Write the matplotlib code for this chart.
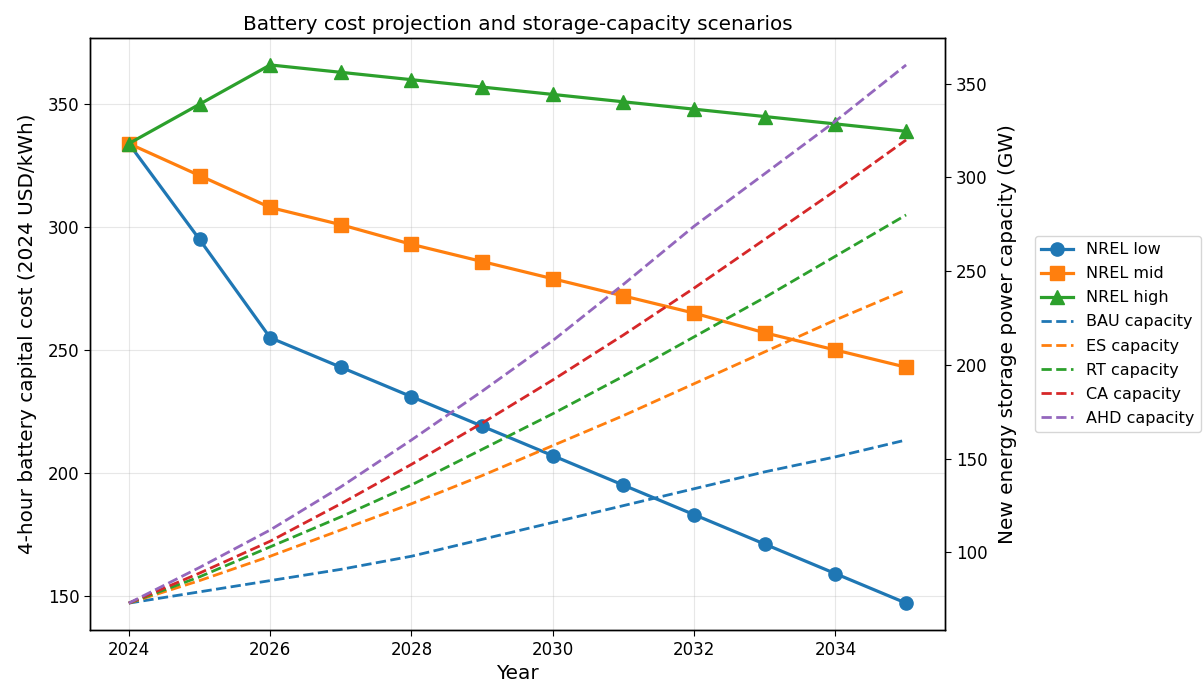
import matplotlib
matplotlib.use("Agg")
import matplotlib.pyplot as plt

years = list(range(2024, 2036))

nrel_low = [334, 295, 255, 243, 231, 219, 207, 195, 183, 171, 159, 147]
nrel_mid = [334, 321, 308, 301, 293, 286, 279, 272, 265, 257, 250, 243]
nrel_high = [334, 350, 366, 363, 360, 357, 354, 351, 348, 345, 342, 339]

bau_cap = [73, 79, 85, 91, 98, 107, 116, 125, 134, 143, 151, 160]
es_cap = [73, 85, 98, 112, 126, 141, 157, 173, 190, 207, 224, 240]
rt_cap = [73, 87, 103, 119, 136, 155, 174, 194, 215, 236, 258, 280]
ca_cap = [73, 89, 106, 126, 147, 169, 192, 216, 241, 267, 293, 320]
ahd_cap = [73, 92, 112, 135, 160, 186, 213, 243, 274, 302, 330, 360]

cost_series = [("NREL low", nrel_low, "o", "#1f77b4"),
               ("NREL mid", nrel_mid, "s", "#ff7f0e"),
               ("NREL high", nrel_high, "^", "#2ca02c")]
cap_series = [("BAU capacity", bau_cap, "#1f77b4"),
              ("ES capacity", es_cap, "#ff7f0e"),
              ("RT capacity", rt_cap, "#2ca02c"),
              ("CA capacity", ca_cap, "#d62728"),
              ("AHD capacity", ahd_cap, "#9467bd")]

plt.rcParams["axes.linewidth"] = 1.0
plt.rcParams["xtick.major.size"] = 4.2
plt.rcParams["ytick.major.size"] = 4.2

fig, ax = plt.subplots(figsize=(12.03, 6.89), dpi=100)
fig.subplots_adjust(left=0.0748, right=0.7855, top=0.9448, bottom=0.0856)

handles = []
for name, vals, mk, col in cost_series:
    h, = ax.plot(years, vals, marker=mk, color=col, linewidth=2.3, markersize=9.5, label=name)
    handles.append(h)

ax2 = ax.twinx()
for name, vals, col in cap_series:
    h, = ax2.plot(years, vals, linestyle="--", color=col, linewidth=2.0, label=name)
    handles.append(h)

ax.set_xlabel("Year", fontsize=14.4)
ax.set_ylabel("4-hour battery capital cost (2024 USD/kWh)", fontsize=14.4, labelpad=8)
ax2.set_ylabel("New energy storage power capacity (GW)", fontsize=14.4, labelpad=8)
ax.set_title("Battery cost projection and storage-capacity scenarios", fontsize=14.4)
ax.grid(True, alpha=0.3)
ax.tick_params(labelsize=12)
ax2.tick_params(labelsize=12)

ax.legend(handles=handles, loc="center left", bbox_to_anchor=(1.096, 0.5),
          fontsize=11.5, labelspacing=0.57)

fig.savefig("out.png", dpi=100)
